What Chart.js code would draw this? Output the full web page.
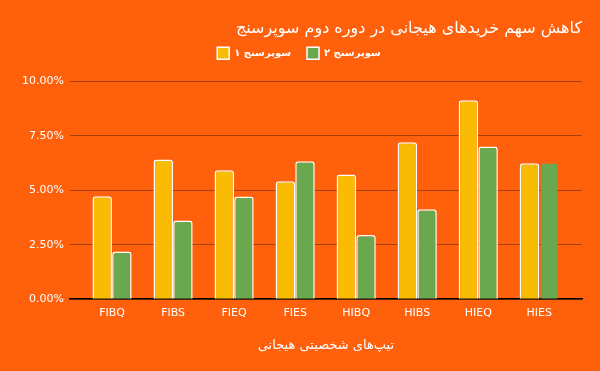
<!DOCTYPE html>
<html>
<head>
<meta charset="utf-8">
<script src="https://cdn.jsdelivr.net/npm/chart.js@4/dist/chart.umd.min.js"></script>
<style>
  html, body { margin: 0; padding: 0; background: #ff600b; }
  #wrap { width: 600px; height: 371px; }
</style>
</head>
<body>
<div id="wrap"><canvas id="chart"></canvas></div>
<script>
// data (percent)
const categories = ['FIBQ', 'FIBS', 'FIEQ', 'FIES', 'HIBQ', 'HIBS', 'HIEQ', 'HIES'];
const survey1 = [4.72, 6.41, 5.92, 5.41, 5.72, 7.20, 9.13, 6.24];
const survey2 = [2.19, 3.61, 4.71, 6.33, 2.94, 4.13, 7.00, 6.28];
const seriesNames = ['سوپرسنج ۱', 'سوپرسنج ۲'];
const titleText = 'کاهش سهم خریدهای هیجانی در دوره دوم سوپرسنج';
const xTitleText = 'تیپ‌های شخصیتی هیجانی';

// x is numeric (category index) so the gridlines can run past the outer bars
const toPoints = arr => arr.map((v, i) => ({ x: i, y: v }));

const bgFill = {
    id: 'bgFill',
    beforeDraw(chart) {
        const ctx = chart.ctx;
        ctx.save();
        ctx.fillStyle = '#ff600b';
        ctx.fillRect(0, 0, chart.width, chart.height);
        ctx.restore();
    }
};

// extra room under the legend
const legendGap = {
    id: 'legendGap',
    afterInit(chart) {
        const legend = chart.legend;
        if (!legend) return;
        const fit = legend.fit;
        legend.fit = function () {
            fit.call(this);
            this.height += 12;
        };
    }
};

Chart.defaults.font.family = 'DejaVu Sans';
Chart.defaults.color = '#ffffff';

new Chart(document.getElementById('chart').getContext('2d'), {
    type: 'bar',
    data: {
        datasets: [{
            label: seriesNames[0],
            data: toPoints(survey1),
            backgroundColor: '#fabb05',
            borderColor: '#ffffff',
            borderWidth: 1.5,
            borderRadius: 3,
            borderSkipped: 'bottom'
        }, {
            label: seriesNames[1],
            data: toPoints(survey2),
            backgroundColor: '#6aa84f',
            borderColor: ['#ffffff', '#ffffff', '#ffffff', '#ffffff', '#ffffff', '#ffffff', '#ffffff', 'rgba(0,0,0,0)'],
            borderWidth: 1.5,
            borderRadius: 3,
            borderSkipped: 'bottom'
        }]
    },
    options: {
        responsive: true,
        maintainAspectRatio: false,
        animation: false,
        layout: { padding: { left: 16, right: 18, top: 9, bottom: 14 } },
        datasets: {
            bar: { categoryPercentage: 0.645, barPercentage: 0.99 }
        },
        scales: {
            x: {
                type: 'linear',
                offset: false,
                min: -0.69,
                max: 7.70,
                grid: { display: false, drawTicks: false, offset: false },
                border: { color: '#000000', width: 1.5 },
                ticks: {
                    stepSize: 1,
                    includeBounds: false,
                    autoSkip: false,
                    maxRotation: 0,
                    color: '#ffffff',
                    font: { size: 11 },
                    padding: 7,
                    callback: v => (Number.isInteger(v) && categories[v]) ? categories[v] : ''
                },
                title: {
                    display: true,
                    text: xTitleText,
                    color: '#ffffff',
                    font: { size: 13 },
                    padding: { top: 11, bottom: 4 }
                }
            },
            y: {
                min: 0,
                max: 10,
                ticks: {
                    stepSize: 2.5,
                    color: '#ffffff',
                    font: { size: 11 },
                    padding: 6,
                    callback: v => v.toFixed(2) + '%'
                },
                grid: { color: '#a8400c', drawTicks: false, lineWidth: 1 },
                border: { display: false }
            }
        },
        plugins: {
            title: {
                display: true,
                text: titleText,
                align: 'end',
                color: '#ffffff',
                font: { size: 16, weight: 'normal' },
                padding: { top: 10, bottom: -7 }
            },
            legend: {
                position: 'top',
                labels: {
                    color: '#ffffff',
                    boxWidth: 12,
                    boxHeight: 12,
                    padding: 16,
                    font: { size: 10, weight: 'bold' }
                }
            },
            tooltip: { enabled: false }
        }
    },
    plugins: [bgFill, legendGap]
});
</script>
</body>
</html>
